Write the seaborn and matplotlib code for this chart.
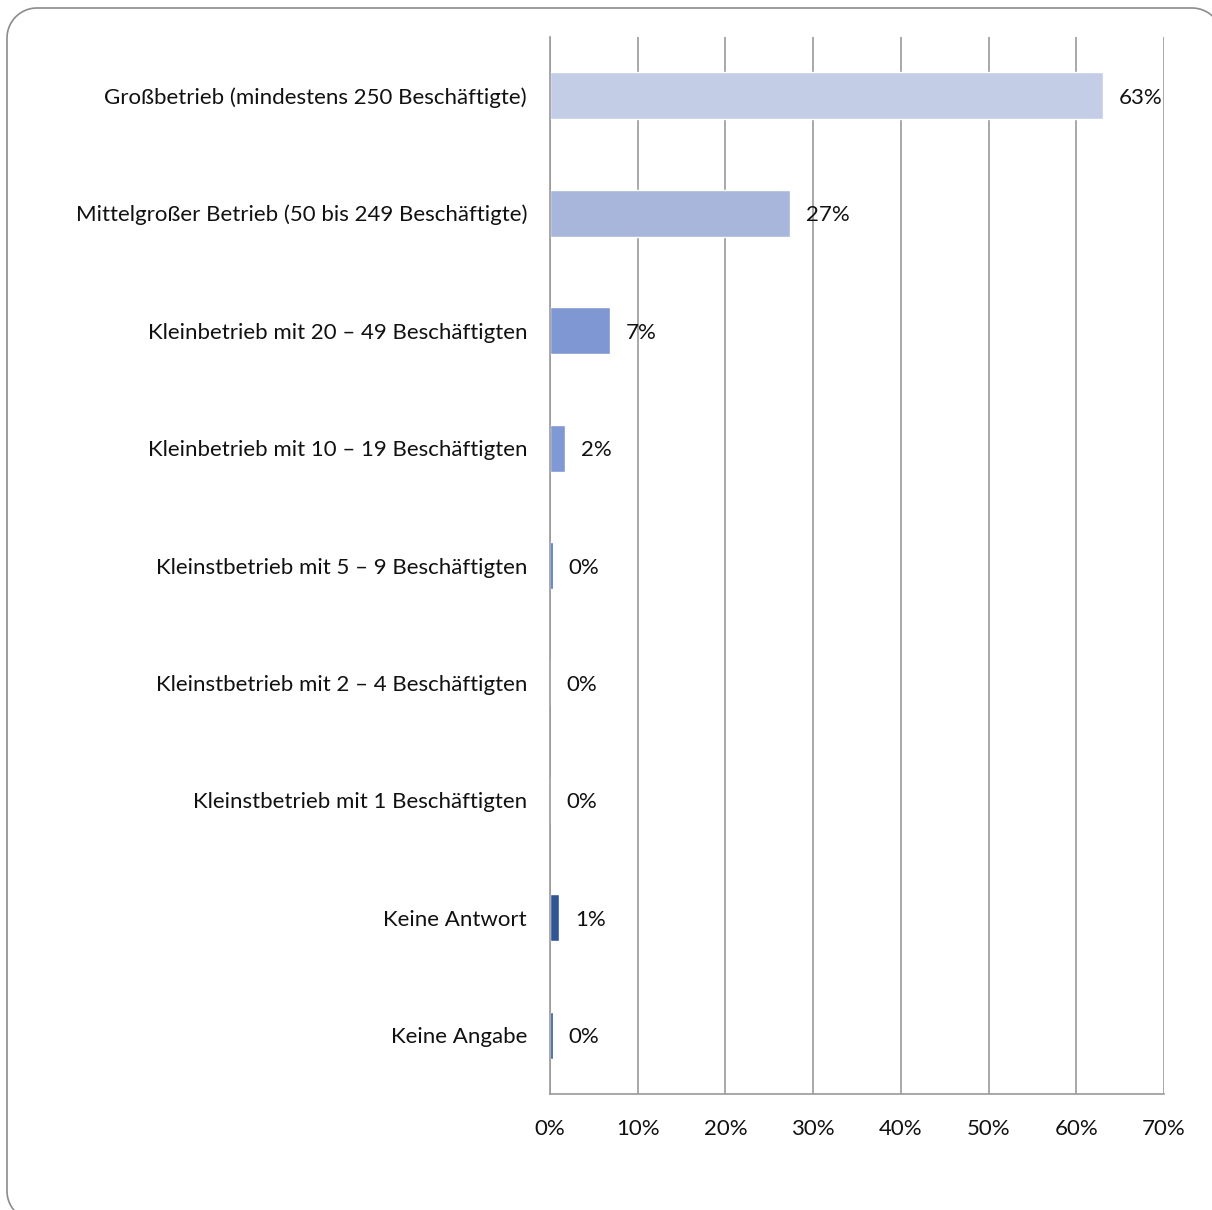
import matplotlib
matplotlib.use("Agg")
import matplotlib.pyplot as plt
import matplotlib.transforms as mtransforms
import numpy as np
import seaborn as sns
import pandas as pd
from matplotlib.path import Path
from matplotlib.patches import PathPatch

categories = [
    "Großbetrieb (mindestens 250 Beschäftigte)",
    "Mittelgroßer Betrieb (50 bis 249 Beschäftigte)",
    "Kleinbetrieb mit 20 – 49 Beschäftigten",
    "Kleinbetrieb mit 10 – 19 Beschäftigten",
    "Kleinstbetrieb mit 5 – 9 Beschäftigten",
    "Kleinstbetrieb mit 2 – 4 Beschäftigten",
    "Kleinstbetrieb mit 1 Beschäftigten",
    "Keine Antwort",
    "Keine Angabe",
]
values = [63.0, 27.4, 6.8, 1.7, 0.3, 0.0, 0.0, 1.0, 0.3]
value_labels = ["63%", "27%", "7%", "2%", "0%", "0%", "0%", "1%", "0%"]
colors = ["#C3CDE6", "#A7B6DA", "#7F97D2", "#8099D4", "#4472C4",
          "#4472C4", "#4472C4", "#2F5597", "#2F5597"]
x_ticks = [0, 10, 20, 30, 40, 50, 60, 70]
x_tick_labels = ["0%", "10%", "20%", "30%", "40%", "50%", "60%", "70%"]

sns.set_theme(style="white")
plt.rcParams["font.family"] = ["Lato", "DejaVu Sans"]

W, H = 1212, 1210
fig = plt.figure(figsize=(W / 100, H / 100), dpi=100)


def rounded_rect(x0, y0, x1, y1, r, n=24):
    """Closed rounded rectangle as a polyline (pixel units, origin bottom-left)."""
    pts = []
    corners = [(x1 - r, y1 - r, 0), (x0 + r, y1 - r, 90),
               (x0 + r, y0 + r, 180), (x1 - r, y0 + r, 270)]
    for cx, cy, a0 in corners:
        t = np.radians(np.linspace(a0, a0 + 90, n))
        pts.extend(zip(cx + r * np.cos(t), cy + r * np.sin(t)))
    pts.append(pts[0])
    return Path(pts)


# rounded frame around the whole chart
left, top, right, bottom = 7, 8, 1222, 1221
frame = PathPatch(rounded_rect(left, H - bottom, right, H - top, 30),
                  transform=mtransforms.IdentityTransform(),
                  facecolor="none", edgecolor="#8C8C8C", linewidth=1.2, zorder=-1)
fig.patches.append(frame)

ax = fig.add_axes([550 / W, 1 - 1094 / H, (1164 - 550) / W, (1094 - 37) / H])
ax.set_facecolor("none")

df = pd.DataFrame({"cat": categories, "val": values})
sns.barplot(data=df, x="val", y="cat", hue="cat", palette=colors,
            legend=False, width=0.40, ax=ax, saturation=1, zorder=3)

ax.set_xlim(0, 70)
ax.set_ylim(8.5, -0.5)
ax.set_xticks(x_ticks)
ax.set_xticklabels(x_tick_labels, fontsize=16, color="#111111")
ax.tick_params(axis="x", length=0, pad=18)
ax.tick_params(axis="y", length=0, pad=16.5, labelsize=16, labelcolor="#111111")
ax.set_xlabel("")
ax.set_ylabel("")
ax.grid(axis="x", color="#9A9A9A", linewidth=1.2, zorder=1)
ax.set_axisbelow(True)
for side in ["top", "right"]:
    ax.spines[side].set_visible(False)
ax.spines["left"].set_color("#9A9A9A")
ax.spines["left"].set_linewidth(1.2)
ax.spines["left"].set_zorder(4)
ax.spines["bottom"].set_color("#9A9A9A")
ax.spines["bottom"].set_linewidth(1.2)

for i, (v, lab) in enumerate(zip(values, value_labels)):
    ax.annotate(lab, xy=(v, i), xytext=(16, -2), textcoords="offset pixels",
                ha="left", va="center", fontsize=16, color="#111111", zorder=5)

fig.savefig("out.png", dpi=100)
